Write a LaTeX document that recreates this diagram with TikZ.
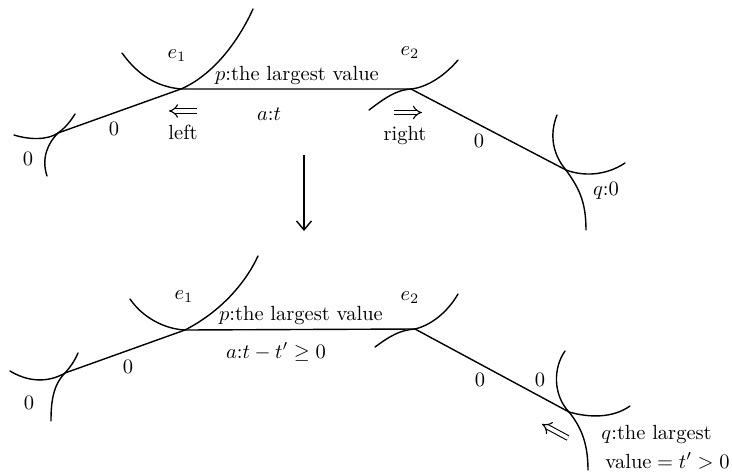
\documentclass[tikz,border=0pt]{standalone}
\usepackage{amsmath}
\usepackage{amssymb}
\usepackage{xcolor}
\usetikzlibrary{arrows,arrows.meta,positioning,calc}

\begin{document}
\begin{tikzpicture}[
  x=1pt, y=-1pt,
  edgeline/.style={line width=1.4pt, color=black, line cap=round},
  curveline/.style={edgeline},
  downarrow/.style={-{Straight Barb[length=9pt,width=15pt]}, line width=1.4pt, color=black},
  hollowarrow/.style={double, double distance=3.6pt, line width=1.1pt, color=black,
                      -{Implies}},
  label/.style={font=\normalsize, scale=2.05, transform shape, text=black, inner sep=0pt, align=left}
]
\useasboundingbox (0,0) rectangle (732,475);

% upper tree
\coordinate (topa) at (181,89);
\coordinate (topb) at (411,89);
\coordinate (topl) at (58,133);
\coordinate (topr) at (566,170);
\coordinate (topaw) at (122,53);
\coordinate (topae) at (253,9);
\coordinate (topbw) at (369,110);
\coordinate (topbe) at (458,60);
\coordinate (toplw) at (14,135);
\coordinate (tople) at (75,114);
\coordinate (topls) at (47,176);
\coordinate (toprn) at (557,115);
\coordinate (topre) at (625,163);
\coordinate (toprs) at (586,230);

\draw[edgeline] (topl) -- (topa) -- (topb) -- (topr);
\draw[curveline] (topaw) .. controls (140,78) and (160,87) .. (topa)
  .. controls (213,75) and (238,42) .. (topae);
\draw[curveline] (topbw) .. controls (385,98) and (396,90) .. (topb)
  .. controls (430,87) and (448,72) .. (topbe);
\draw[curveline] (toplw) .. controls (30,140) and (48,140) .. (topl)
  .. controls (65,128) and (70,122) .. (tople);
\draw[curveline] (topl) .. controls (48,143) and (41,158) .. (topls);
\draw[curveline] (toprn) .. controls (549,135) and (553,155) .. (topr)
  .. controls (585,177) and (607,175) .. (topre);
\draw[curveline] (topr) .. controls (578,187) and (586,200) .. (toprs);

% labels of upper tree
\node[label] (tope1) at (177,56) {$e_1$};
\node[label] (tope2) at (410,53) {$e_2$};
\node[label] (topp) at (297,75) {$p$:the largest value};
\node[label] (topat) at (269,114) {$a$:$t$};
\node[label] (topleft) at (183,132) {left};
\node[label] (topright) at (405,135) {right};
\node[label] (topz1) at (114,129) {0};
\node[label] (topz2) at (28,159) {0};
\node[label] (topz3) at (479,141) {0};
\node[label] (topq) at (606,191) {$q$:0};

% outward arrows
\coordinate (leftfrom) at (197,111);
\coordinate (leftto) at (169,111);
\coordinate (rightfrom) at (394,112.5);
\coordinate (rightto) at (422,112.5);
\draw[hollowarrow] (leftfrom) -- (leftto);
\draw[hollowarrow] (rightfrom) -- (rightto);

% step between the trees
\coordinate (stepfrom) at (304,155);
\coordinate (stepto) at (304,231);
\draw[downarrow] (stepfrom) -- (stepto);

% lower tree
\coordinate (lowa) at (185,330);
\coordinate (lowb) at (415,329);
\coordinate (lowl) at (65,373);
\coordinate (lowr) at (569,412);
\coordinate (lowaw) at (130,299);
\coordinate (lowae) at (258,256);
\coordinate (lowbw) at (375,347);
\coordinate (lowbe) at (458,294);
\coordinate (lowlw) at (10,371);
\coordinate (lowle) at (78,353);
\coordinate (lowls) at (51,421);
\coordinate (lowrn) at (565,351);
\coordinate (lowre) at (630,406);
\coordinate (lowrs) at (588,470);

\draw[edgeline] (lowl) -- (lowa) -- (lowb) -- (lowr);
\draw[curveline] (lowaw) .. controls (143,318) and (165,329) .. (lowa)
  .. controls (220,312) and (245,284) .. (lowae);
\draw[curveline] (lowbw) .. controls (390,336) and (400,330) .. (lowb)
  .. controls (435,324) and (450,308) .. (lowbe);
\draw[curveline] (lowlw) .. controls (28,382) and (48,383) .. (lowl)
  .. controls (72,365) and (75,360) .. (lowle);
\draw[curveline] (lowl) .. controls (53,385) and (51,402) .. (lowls);
\draw[curveline] (lowrn) .. controls (553,368) and (553,395) .. (lowr)
  .. controls (590,418) and (613,418) .. (lowre);
\draw[curveline] (lowr) .. controls (582,428) and (588,445) .. (lowrs);

% labels of lower tree
\node[label] (lowe1) at (184,297) {$e_1$};
\node[label] (lowe2) at (410,298) {$e_2$};
\node[label] (lowp) at (301,315) {$p$:the largest value};
\node[label] (lowat) at (276,352) {$a$:$t-t'\geq 0$};
\node[label] (lowz1) at (128,367) {0};
\node[label] (lowz2) at (29,403) {0};
\node[label] (lowz3) at (480,380) {0};
\node[label] (lowz4) at (540,380) {0};
\node[label, anchor=west] (lowq) at (601,434) {$q$:the largest};
\node[label, anchor=west] (lowv) at (605,461) {value${}=t'>0$};

% inward arrow
\coordinate (inwfrom) at (568,438);
\coordinate (inwto) at (542,424);
\draw[hollowarrow] (inwfrom) -- (inwto);

\end{tikzpicture}
\end{document}
